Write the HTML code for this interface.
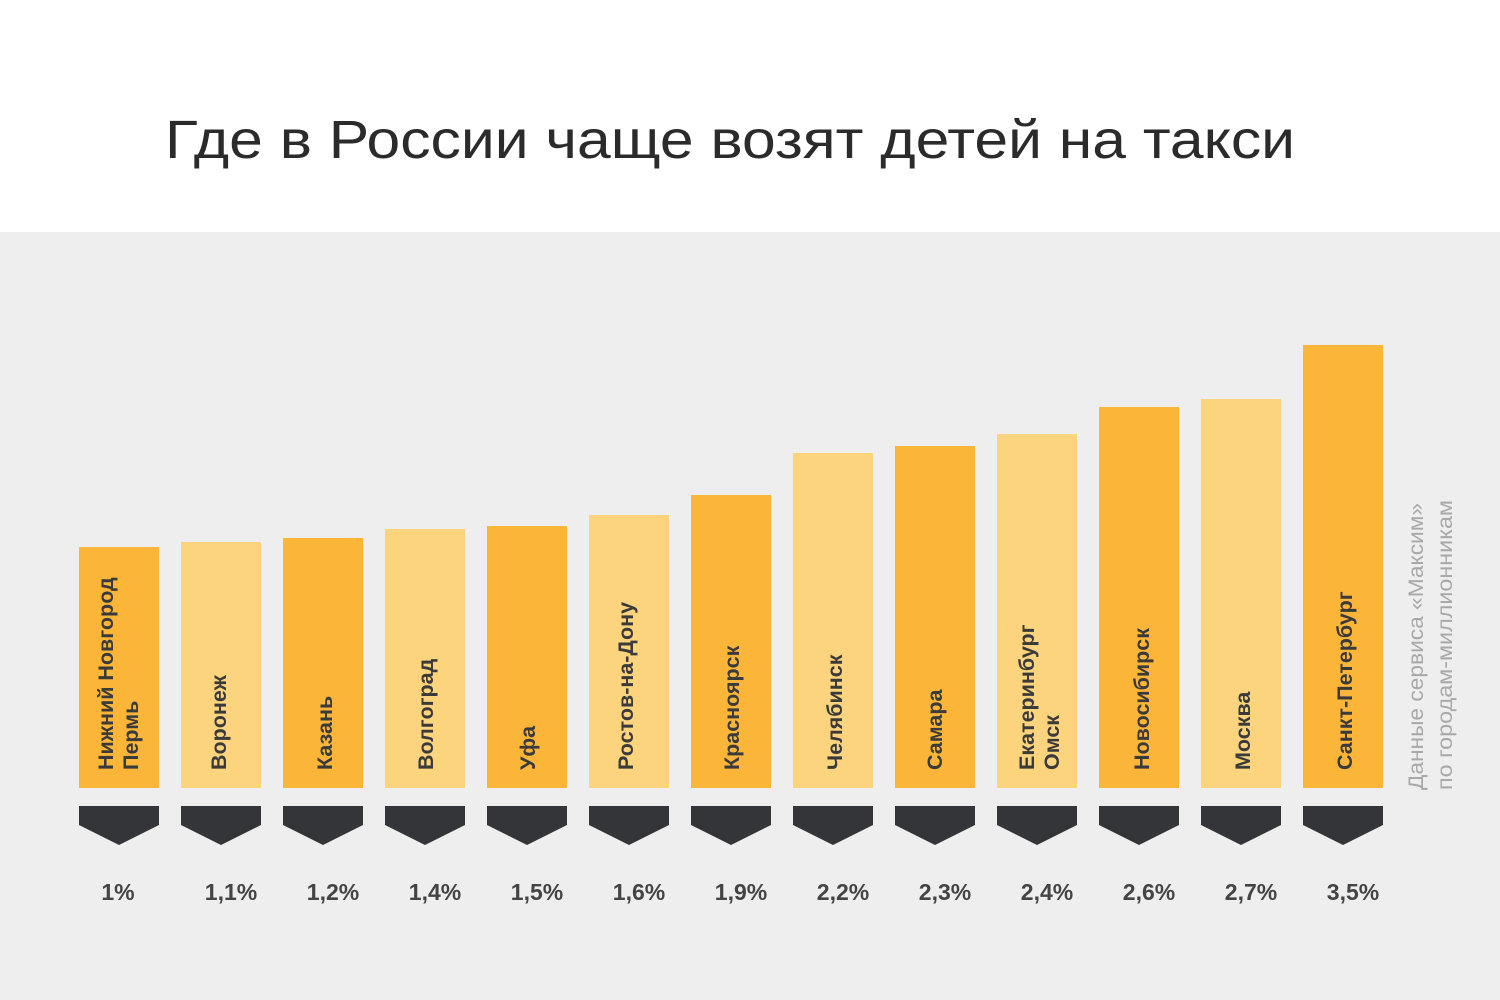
<!DOCTYPE html>
<html><head><meta charset="utf-8"><style>
html,body{margin:0;padding:0;width:1500px;height:1000px;overflow:hidden;background:#fff}
svg{display:block}
text{font-family:"Liberation Sans",sans-serif}
</style></head><body>
<svg width="1500" height="1000" viewBox="0 0 1500 1000" xmlns="http://www.w3.org/2000/svg">
<rect x="0" y="0" width="1500" height="232" fill="#fff"/>
<rect x="0" y="232" width="1500" height="768" fill="#eeeeee"/>
<text x="165" y="158" font-size="54" fill="#2b2b2b" textLength="1130" lengthAdjust="spacingAndGlyphs">Где в России чаще возят детей на такси</text>
<g id="bars">
<rect x="79" y="547" width="80" height="241" fill="#fbb63a"/>
<rect x="181" y="542" width="80" height="246" fill="#fdd47e"/>
<rect x="283" y="538" width="80" height="250" fill="#fbb63a"/>
<rect x="385" y="529" width="80" height="259" fill="#fdd47e"/>
<rect x="487" y="526" width="80" height="262" fill="#fbb63a"/>
<rect x="589" y="515" width="80" height="273" fill="#fdd47e"/>
<rect x="691" y="495" width="80" height="293" fill="#fbb63a"/>
<rect x="793" y="453" width="80" height="335" fill="#fdd47e"/>
<rect x="895" y="446" width="80" height="342" fill="#fbb63a"/>
<rect x="997" y="434" width="80" height="354" fill="#fdd47e"/>
<rect x="1099" y="407" width="80" height="381" fill="#fbb63a"/>
<rect x="1201" y="399" width="80" height="389" fill="#fdd47e"/>
<rect x="1303" y="345" width="80" height="443" fill="#fbb63a"/>
</g>
<g fill="#343538">
<polygon points="79,806 159,806 159,825 119,845 79,825"/>
<polygon points="181,806 261,806 261,825 221,845 181,825"/>
<polygon points="283,806 363,806 363,825 323,845 283,825"/>
<polygon points="385,806 465,806 465,825 425,845 385,825"/>
<polygon points="487,806 567,806 567,825 527,845 487,825"/>
<polygon points="589,806 669,806 669,825 629,845 589,825"/>
<polygon points="691,806 771,806 771,825 731,845 691,825"/>
<polygon points="793,806 873,806 873,825 833,845 793,825"/>
<polygon points="895,806 975,806 975,825 935,845 895,825"/>
<polygon points="997,806 1077,806 1077,825 1037,845 997,825"/>
<polygon points="1099,806 1179,806 1179,825 1139,845 1099,825"/>
<polygon points="1201,806 1281,806 1281,825 1241,845 1201,825"/>
<polygon points="1303,806 1383,806 1383,825 1343,845 1303,825"/>
</g>
<g font-size="21.5" font-weight="bold" fill="#3a3a3a">
<text transform="translate(113,770) rotate(-90)">Нижний Новгород</text>
<text transform="translate(138,770) rotate(-90)">Пермь</text>
<text transform="translate(226,770) rotate(-90)">Воронеж</text>
<text transform="translate(332,770) rotate(-90)">Казань</text>
<text transform="translate(433,770) rotate(-90)">Волгоград</text>
<text transform="translate(535,770) rotate(-90)">Уфа</text>
<text transform="translate(633,770) rotate(-90)">Ростов-на-Дону</text>
<text transform="translate(739,770) rotate(-90)">Красноярск</text>
<text transform="translate(842,770) rotate(-90)">Челябинск</text>
<text transform="translate(942,770) rotate(-90)">Самара</text>
<text transform="translate(1034,770) rotate(-90)">Екатеринбург</text>
<text transform="translate(1059,770) rotate(-90)">Омск</text>
<text transform="translate(1149,770) rotate(-90)">Новосибирск</text>
<text transform="translate(1250,770) rotate(-90)">Москва</text>
<text transform="translate(1352,770) rotate(-90)">Санкт-Петербург</text>
</g>
<g font-size="23" font-weight="bold" fill="#444" text-anchor="middle">
<text x="118" y="900">1%</text>
<text x="231" y="900">1,1%</text>
<text x="333" y="900">1,2%</text>
<text x="435" y="900">1,4%</text>
<text x="537" y="900">1,5%</text>
<text x="639" y="900">1,6%</text>
<text x="741" y="900">1,9%</text>
<text x="843" y="900">2,2%</text>
<text x="945" y="900">2,3%</text>
<text x="1047" y="900">2,4%</text>
<text x="1149" y="900">2,6%</text>
<text x="1251" y="900">2,7%</text>
<text x="1353" y="900">3,5%</text>
</g>
<g font-size="21" fill="#a8a8a8">
<text transform="translate(1423,790) rotate(-90)" textLength="287" lengthAdjust="spacingAndGlyphs">Данные сервиса «Максим»</text>
<text transform="translate(1452,790) rotate(-90)" textLength="290" lengthAdjust="spacingAndGlyphs">по городам-миллионникам</text>
</g>
</svg>
</body></html>
